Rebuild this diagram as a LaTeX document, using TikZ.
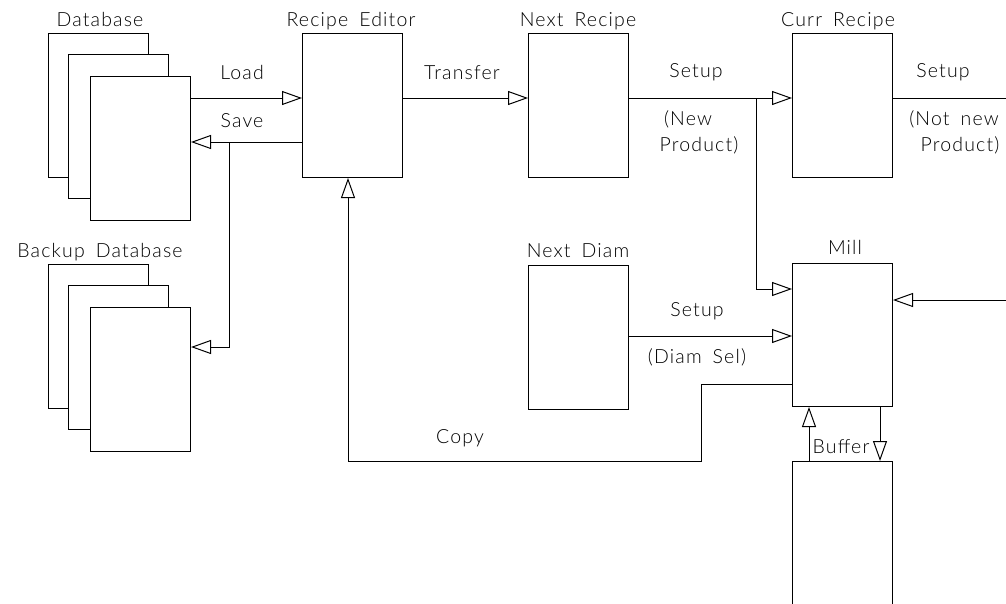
\documentclass[tikz,border=0pt]{standalone}
\usepackage{fontspec}
\setmainfont{Lato}[UprightFont=* Light, LetterSpace=6]
\usetikzlibrary{arrows.meta}
\newcommand\wsp{\hspace{11pt}}
\begin{document}
\begin{tikzpicture}[x=1pt,y=-1pt,
  font=\fontsize{19.5}{22}\selectfont,
  box/.style={draw, line width=1pt, minimum width=100pt, minimum height=144pt,
              inner sep=0pt, anchor=north west, fill=white},
  openbox/.style={minimum width=100pt, minimum height=144pt,
              inner sep=0pt, anchor=north west},
  lbl/.style={inner sep=0pt, anchor=base},
  conn/.style={line width=1pt},
  arr/.style={line width=1pt, -{Triangle[open,length=20pt,width=14pt]}}]
\useasboundingbox (0,0) rectangle (1006,603);

% Database stack
\node[box] (db1) at (48,33) {};
\node[box] (db2) at (68,54) {};
\node[box] (db3) at (90,76) {};
\node[lbl] (dbl) at (100,26) {Database};

% Backup database stack
\node[box] (bk1) at (48,264) {};
\node[box] (bk2) at (68,285) {};
\node[box] (bk3) at (90,307) {};
\node[lbl] (bkl) at (100,257) {Backup\wsp Database};

% Main boxes
\node[box] (re) at (302,33) {};
\node[lbl] (rel) at (351,26) {Recipe\wsp Editor};
\node[box] (nr) at (528,33) {};
\node[lbl] (nrl) at (578,26) {Next\wsp Recipe};
\node[box] (cr) at (792,33) {};
\node[lbl] (crl) at (838,26) {Curr\wsp Recipe};
\node[box] (nd) at (528,265) {};
\node[lbl] (ndl) at (578,257) {Next\wsp Diam};
\node[box, minimum height=143pt] (mill) at (792,263) {};
\node[lbl] (milll) at (845,254) {Mill};

% Buffer (open at the bottom edge)
\node[openbox] (buf) at (792,461) {};
\draw[conn] (buf.north west) ++(0,150) -- (buf.north west) -- (buf.north east) -- ++(0,150);

% Coordinates for free ends / bends
\coordinate (edge1) at (1006,98);
\coordinate (edge2) at (1006,300);
\coordinate (j1) at (756,98);
\coordinate (j2) at (229,142);
\coordinate (k1) at (701,384);
\coordinate (k2) at (701,461);
\coordinate (k3) at (348,461);

% Connectors
\draw[arr] (db3.east |- 0,98) -- (re.west |- 0,98);
\node[lbl] (load) at (242,79) {Load};
\draw[arr] (re.west |- 0,142) -- (db3.east |- 0,142);
\node[lbl] (save) at (242,127) {Save};
\draw[arr] (j2) -- (j2 |- 0,347) -- (bk3.east |- 0,347);

\draw[arr] (re.east |- 0,98) -- (nr.west |- 0,98);
\node[lbl] (trl) at (462,79) {Transfer};

\draw[arr] (nr.east |- 0,98) -- (cr.west |- 0,98);
\node[lbl] (s1) at (696,77) {Setup};
\node[lbl] (s1a) at (688,125) {(New};
\node[lbl] (s1b) at (699,151) {Product)};
\draw[arr] (j1) -- (j1 |- 0,289) -- (mill.west |- 0,289);

\draw[conn] (cr.east |- 0,98) -- (edge1);
\node[lbl] (s2) at (943,77) {Setup};
\node[lbl] (s2a) at (954,125) {(Not\wsp new};
\node[lbl] (s2b) at (960,151) {Product)};

\draw[arr] (edge2) -- (mill.east |- edge2);

\draw[arr] (nd.east |- 0,336) -- (mill.west |- 0,336);
\node[lbl] (s3) at (697,316) {Setup};
\node[lbl] (s3a) at (697,363) {(Diam\wsp Sel)};

\draw[arr] (mill.west |- k1) -- (k1) -- (k2) -- (k3) -- (re.south -| k3);
\node[lbl] (cpl) at (460,443) {Copy};

\draw[arr] (buf.north -| 809,0) -- (mill.south -| 809,0);
\draw[arr] (mill.south -| 880,0) -- (buf.north -| 880,0);
\node[lbl] (bufl) at (841,453) {Buffer};
\end{tikzpicture}
\end{document}
